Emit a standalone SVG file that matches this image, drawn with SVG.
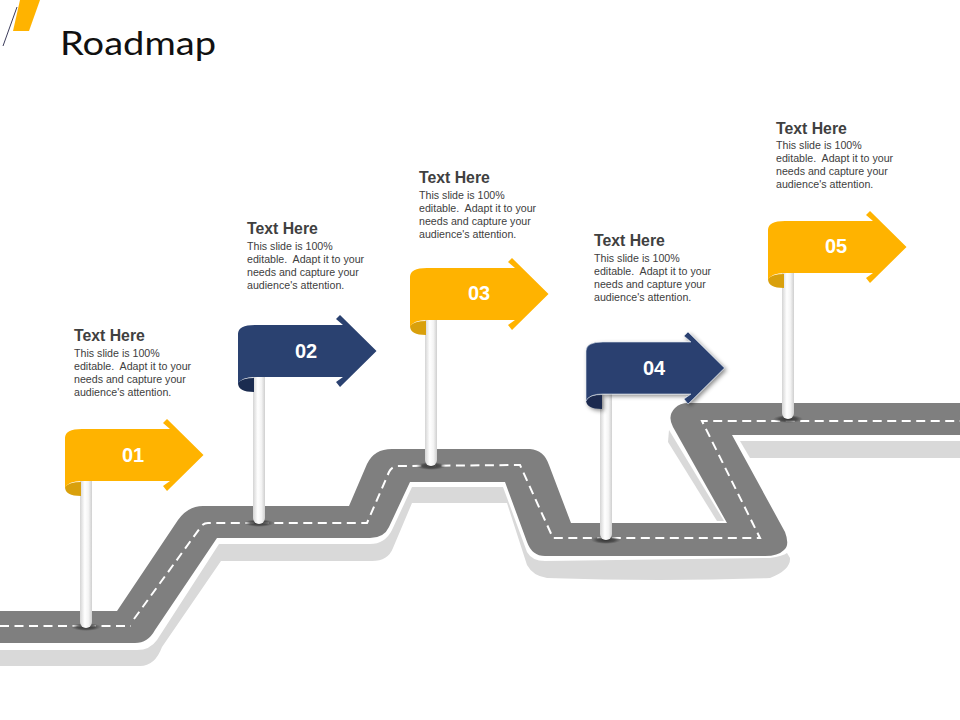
<svg xmlns="http://www.w3.org/2000/svg" width="960" height="720" viewBox="0 0 960 720">
<style>
.h{font:bold 15.8px "Liberation Sans",Arial,sans-serif;fill:#404040}
.b{font:10.65px "Liberation Sans",Arial,sans-serif;fill:#404040;white-space:pre}
.n{font:bold 20px "Liberation Sans",Arial,sans-serif;fill:#fff;text-anchor:middle}
.y{fill:#ffb300}.yd{fill:#d9a00c}.v{fill:#2a4170}.vd{fill:#1b2c50}
.shadow{fill:#d9d9d9}
</style>
<defs>
<linearGradient id="pole"><stop offset="0" stop-color="#d4d4d4"/><stop offset=".4" stop-color="#fff"/><stop offset=".7" stop-color="#f4f4f4"/><stop offset="1" stop-color="#cfcfcf"/></linearGradient>
<radialGradient id="base"><stop offset="0" stop-color="#333"/><stop offset=".6" stop-color="#444" stop-opacity=".8"/><stop offset="1" stop-color="#555" stop-opacity="0"/></radialGradient>
<path id="body" d="M0,9Q0,0 17,0H105L98,-6L102,-10L138.500,26L102,62L98,57L105,52H17Q3,52 0,59Z"/>
<path id="curl" d="M0,58Q0,67 16,67V53Q4,53 0,58Z"/>
<filter id="ds" x="-10%" y="-10%" width="125%" height="130%"><feDropShadow dx="2" dy="2" stdDeviation="2" flood-color="#000" flood-opacity=".45"/></filter>
</defs>
<rect width="960" height="720" fill="#fff"/>
<g id="decor">
<polygon points="20,0 40,0 29,31 13,31" fill="#ffb300"/>
<line x1="17" y1="7" x2="3" y2="46" stroke="#3d3d5c" stroke-width="1"/>
</g>
<text id="title" x="60" y="55" font-family="Lato,'Liberation Sans',sans-serif" font-weight="400" font-size="33" fill="#111" textLength="156" lengthAdjust="spacingAndGlyphs">Roadmap</text>
<g id="road">
<path class="shadow" d="M0,650H137Q150,650 157,640L219,544H370Q385,544 392,530L412,487H503L527,552Q532,561 545,561L770,558Q783,556 787,553L790,558Q791,570 770,578Q660,582 547,578Q533,576 527,565L507,503H412L393,548Q388,561 372,561H221L162,647Q155,666 140,666H0Z"/>
<polygon class="shadow" points="669,430 724,521 717,521 668,442"/>
<polygon class="shadow" points="740,441 960,441 960,458 750,458"/>
<path fill="#7f7f7f" d="M0,611H117L178,520Q188,506 203,506H349L367,464Q374,449 392,449L530,449Q544,450 549,465L571,523H727L673,427Q667,416 675,408Q680,403 688,403H960V435H732L785,532Q790,545 784,550Q778,556 765,556H545Q532,556 527,542L505,482H410L389,527Q384,538 370,538H217L155,630Q148,643 135,643H0Z"/>
<path fill="none" stroke="#fff" stroke-width="2" stroke-dasharray="9 5.500" d="M0,626H131M134,619L200,528Q203,523 208,523H367L389,472Q392,466 398,466L520,465L553,538H760L702,421H960"/>
</g>
<g id="node-01">
<ellipse cx="86" cy="627" rx="15" ry="4" fill="url(#base)"/>
<path d="M80,481H92V622a6,6 0 0 1-12,0Z" fill="url(#pole)"/>
<use href="#curl" x="65" y="429" class="yd"/><use href="#body" x="65" y="429" class="y"/>
<text class="n" x="133" y="462">01</text>
<text class="h" x="74" y="341">Text Here</text>
<text class="b" x="74" y="357">This slide is 100%</text><text class="b" x="74" y="370">editable.  Adapt it to your</text><text class="b" x="74" y="383">needs and capture your</text><text class="b" x="74" y="396">audience's attention.</text>
</g>
<g id="node-02">
<ellipse cx="259" cy="523" rx="15" ry="4" fill="url(#base)"/>
<path d="M253,377H265V518a6,6 0 0 1-12,0Z" fill="url(#pole)"/>
<use href="#curl" x="238" y="325" class="vd"/><use href="#body" x="238" y="325" class="v"/>
<text class="n" x="306" y="358">02</text>
<text class="h" x="247" y="234">Text Here</text>
<text class="b" x="247" y="250">This slide is 100%</text><text class="b" x="247" y="263">editable.  Adapt it to your</text><text class="b" x="247" y="276">needs and capture your</text><text class="b" x="247" y="289">audience's attention.</text>
</g>
<g id="node-03">
<ellipse cx="431" cy="466" rx="15" ry="4" fill="url(#base)"/>
<path d="M425,319H437V460a6,6 0 0 1-12,0Z" fill="url(#pole)"/>
<use href="#curl" x="410" y="268" class="yd"/><use href="#body" x="410" y="268" class="y"/>
<text class="n" x="479" y="300">03</text>
<text class="h" x="419" y="183">Text Here</text>
<text class="b" x="419" y="199">This slide is 100%</text><text class="b" x="419" y="212">editable.  Adapt it to your</text><text class="b" x="419" y="225">needs and capture your</text><text class="b" x="419" y="238">audience's attention.</text>
</g>
<g id="node-04">
<ellipse cx="606" cy="540" rx="15" ry="4" fill="url(#base)"/>
<path d="M600,393H612V534a6,6 0 0 1-12,0Z" fill="url(#pole)"/>
<g filter="url(#ds)"><use href="#curl" x="586" y="342" class="vd"/><use href="#body" x="586" y="342" class="v" stroke="#dfe6f0" stroke-width=".6"/></g>
<text class="n" x="654" y="375">04</text>
<text class="h" x="594" y="246">Text Here</text>
<text class="b" x="594" y="262">This slide is 100%</text><text class="b" x="594" y="275">editable.  Adapt it to your</text><text class="b" x="594" y="288">needs and capture your</text><text class="b" x="594" y="301">audience's attention.</text>
</g>
<g id="node-05">
<ellipse cx="788" cy="419" rx="15" ry="4" fill="url(#base)"/>
<path d="M782,272H794V413a6,6 0 0 1-12,0Z" fill="url(#pole)"/>
<use href="#curl" x="768" y="221" class="yd"/><use href="#body" x="768" y="221" class="y"/>
<text class="n" x="836" y="253">05</text>
<text class="h" x="776" y="134">Text Here</text>
<text class="b" x="776" y="149">This slide is 100%</text><text class="b" x="776" y="162">editable.  Adapt it to your</text><text class="b" x="776" y="175">needs and capture your</text><text class="b" x="776" y="188">audience's attention.</text>
</g>
</svg>
